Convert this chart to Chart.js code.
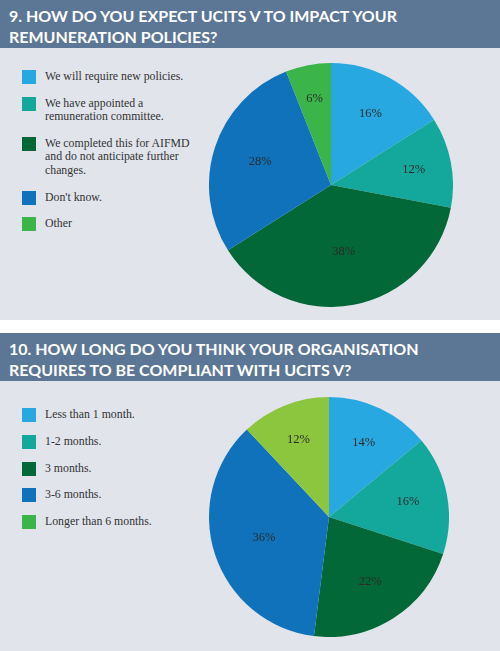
<!DOCTYPE html>
<html>
<head>
    <title>UCITS V survey</title>
    <script src="https://cdn.jsdelivr.net/npm/chart.js"></script>
    <style>
        body { margin: 0; width: 500px; height: 651px; background: #fff; overflow: hidden; }
        .header { background: #5c7796; color: #fff; height: 48px; box-sizing: border-box; padding: 6px 0 0 9px;
                  font-family: Lato, "Open Sans", sans-serif; font-weight: bold; font-size: 16px; line-height: 20.5px; }
        .panel { position: relative; background: #e1e4eb; }
        .legend { position: absolute; left: 22px; font-family: "Liberation Serif", serif; font-size: 11.8px; color: #333; }
        .item { position: relative; padding-left: 23px; line-height: 13.4px; white-space: nowrap; }
        .item .box { position: absolute; left: 0; top: 0; width: 14px; height: 14px; }
        .chart { position: absolute; }
    </style>
</head>
<body>
    <div class="header">9. HOW DO YOU EXPECT UCITS V TO IMPACT YOUR<br>REMUNERATION POLICIES?</div>
    <div class="panel" style="height:272px">
        <div class="legend" id="legend1" style="top:22px"></div>
        <div class="chart" style="left:209px; top:15px; width:244px; height:244px"><canvas id="pie1"></canvas></div>
    </div>
    <div style="height:13px"></div>
    <div class="header">10. HOW LONG DO YOU THINK YOUR ORGANISATION<br>REQUIRES TO BE COMPLIANT WITH UCITS V?</div>
    <div class="panel" style="height:270px">
        <div class="legend" id="legend2" style="top:27px"></div>
        <div class="chart" style="left:209px; top:16px; width:240px; height:240px"><canvas id="pie2"></canvas></div>
    </div>

<script>
// Q9 data (multi-line labels as arrays)
const labels1 = [['We will require new policies.'], ['We have appointed a', 'remuneration committee.'],
    ['We completed this for AIFMD', 'and do not anticipate further', 'changes.'], ["Don't know."], ['Other']];
const values1 = [16, 12, 38, 28, 6];
const colors1 = ['#27a8e0', '#14a89c', '#026837', '#0f72ba', '#3bb44a'];
const legendColors1 = ['#27a8e0', '#14a89c', '#026837', '#0f72ba', '#3bb44a'];

// Q10 data
const labels2 = [['Less than 1 month.'], ['1-2 months.'], ['3 months.'], ['3-6 months.'], ['Longer than 6 months.']];
const values2 = [14, 16, 22, 36, 12];
const colors2 = ['#27a8e0', '#14a89c', '#026837', '#0f72ba', '#8cc63f'];
const legendColors2 = ['#27a8e0', '#14a89c', '#026837', '#0f72ba', '#3bb44a'];

function buildLegend(id, labels, colors) {
    document.getElementById(id).innerHTML = labels.map((l, i) =>
        `<div class="item" style="margin-bottom:${i < labels.length - 1 ? 13.4 : 0}px">
            <span class="box" style="background:${colors[i]}"></span>${l.join('<br>')}</div>`).join('');
}
buildLegend('legend1', labels1, legendColors1);
buildLegend('legend2', labels2, legendColors2);

// percentage labels inside the slices
const sliceLabels = {
    id: 'sliceLabels',
    afterDatasetsDraw(chart) {
        const ctx = chart.ctx;
        const meta = chart.getDatasetMeta(0);
        ctx.save();
        ctx.font = '12.5px "Liberation Serif", serif';
        ctx.fillStyle = '#2b2b2b';
        ctx.textAlign = 'center';
        ctx.textBaseline = 'middle';
        meta.data.forEach((arc, i) => {
            const v = chart.data.datasets[0].data[i];
            const mid = (arc.startAngle + arc.endAngle) / 2;
            const r = arc.outerRadius * (0.75 - v * 0.005);
            ctx.fillText(v + '%', arc.x + Math.cos(mid) * r, arc.y + Math.sin(mid) * r);
        });
        ctx.restore();
    }
};

function makePie(id, labels, values, colors) {
    new Chart(document.getElementById(id), {
        type: 'pie',
        data: {
            labels: labels,
            datasets: [{ data: values, backgroundColor: colors, borderWidth: 0 }]
        },
        options: {
            responsive: true,
            maintainAspectRatio: false,
            animation: false,
            layout: { padding: 0 },
            plugins: { legend: { display: false }, tooltip: { enabled: false } }
        },
        plugins: [sliceLabels]
    });
}
makePie('pie1', labels1, values1, colors1);
makePie('pie2', labels2, values2, colors2);
</script>
</body>
</html>
